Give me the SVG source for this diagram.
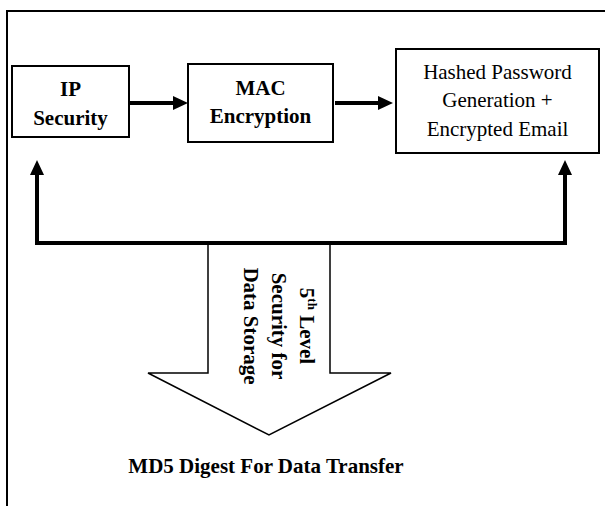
<svg xmlns="http://www.w3.org/2000/svg" width="605" height="506" viewBox="0 0 605 506">
  <defs>
    <style>
      .box { fill: #ffffff; stroke: #000000; stroke-width: 2; }
      .label { font-family: "Liberation Serif", "Times New Roman", serif; font-size: 21px; fill: #000000; text-anchor: middle; }
      .bold { font-weight: bold; }
      .flow { fill: none; stroke: #000000; stroke-width: 4; stroke-linejoin: miter; }
      .bigarrow { fill: #ffffff; stroke: #000000; stroke-width: 1.5; stroke-linejoin: miter; }
    </style>
    <marker id="head" markerUnits="userSpaceOnUse" markerWidth="15" markerHeight="14" refX="5" refY="7" orient="auto-start-reverse">
      <path d="M0,0 L15,7 L0,14 Z" fill="#000000"/>
    </marker>
  </defs>

  <rect width="605" height="506" fill="#ffffff"/>
  <!-- outer frame -->
  <rect x="7" y="11" width="610" height="510" fill="none" stroke="#000000" stroke-width="2"/>

  <g id="ip-security">
    <rect class="box" x="12" y="66" width="117" height="71"/>
    <text class="label bold" x="70.5" y="96">IP</text>
    <text class="label bold" x="70.5" y="125">Security</text>
  </g>

  <g id="mac-encryption">
    <rect class="box" x="188" y="64" width="145" height="78"/>
    <text class="label bold" x="260.5" y="95">MAC</text>
    <text class="label bold" x="260.5" y="123">Encryption</text>
  </g>

  <g id="hashed-password">
    <rect class="box" x="396" y="49" width="203" height="104"/>
    <text class="label" x="497.5" y="79">Hashed Password</text>
    <text class="label" x="497.5" y="107">Generation +</text>
    <text class="label" x="497.5" y="136">Encrypted Email</text>
  </g>

  <g id="data-storage">
    <polygon class="bigarrow" points="208,243 208,373 148,373 269,435 391,373 330,373 330,243"/>
    <g transform="translate(300,326) rotate(90)">
      <text class="label bold" x="0" y="0">5<tspan font-size="13" dy="-8">th</tspan><tspan dy="8"> Level</tspan></text>
      <text class="label bold" x="0" y="28">Security for</text>
      <text class="label bold" x="0" y="56">Data Storage</text>
    </g>
  </g>

  <g id="md5-digest">
    <text class="label bold" x="266" y="473">MD5 Digest For Data Transfer</text>
  </g>

  <g id="connectors">
    <path class="flow" d="M130,103 L178,103" marker-end="url(#head)"/>
    <path class="flow" d="M335,103 L383,103" marker-end="url(#head)"/>
    <path class="flow" d="M37,170 L37,243 L565,243 L565,170" marker-start="url(#head)" marker-end="url(#head)"/>
  </g>
</svg>
